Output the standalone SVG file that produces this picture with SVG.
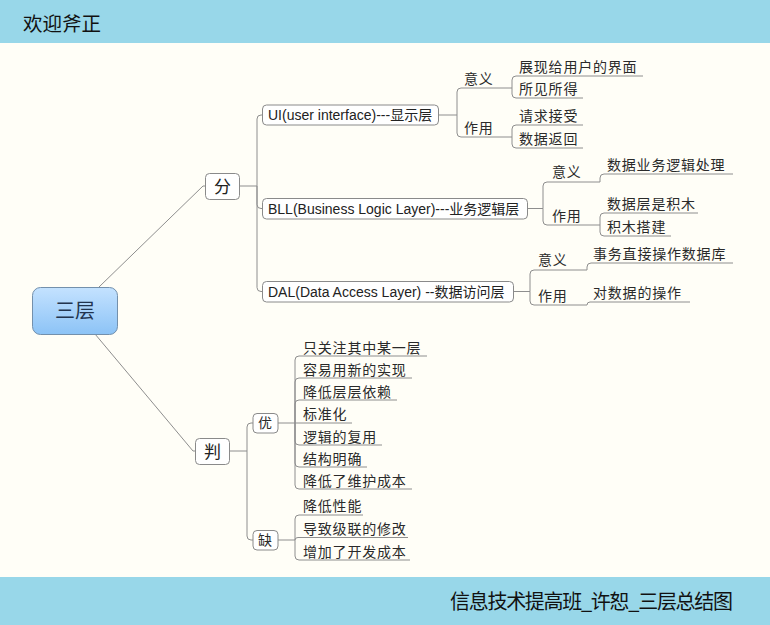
<svg xmlns="http://www.w3.org/2000/svg" width="770" height="625" viewBox="0 0 770 625">
  <defs>
    <linearGradient id="rootGrad" x1="0" y1="0" x2="0" y2="1">
      <stop offset="0" stop-color="#C4E2FF"/>
      <stop offset="1" stop-color="#8CC3F6"/>
    </linearGradient>
    <style>
      .bar { fill: #98D7E9; }
      .bartext { font-family: "Noto Sans CJK SC", "Liberation Sans", sans-serif; fill: #111; }
      .conn { fill: none; stroke: #8E8E8E; stroke-width: 1; }
      .box { fill: #FFFFFF; stroke: #8A8A8A; stroke-width: 1; }
      .lbl { font-family: "Liberation Sans", "Noto Sans CJK SC", sans-serif; font-size: 14px; fill: #222; }
      .cjk { font-family: "Noto Sans CJK SC", sans-serif; font-size: 14px; fill: #2A2A2A; letter-spacing: 0.8px; }
      .big { font-family: "Noto Sans CJK SC", sans-serif; font-size: 17px; fill: #222; text-anchor: middle; }
    </style>
  </defs>

  <rect x="0" y="0" width="770" height="625" fill="#FFFEF7"/>
  <rect class="bar" x="0" y="0" width="770" height="43"/>
  <text class="bartext" x="23" y="31" font-size="19.5">欢迎斧正</text>
  <rect class="bar" x="0" y="577" width="770" height="48"/>
  <text class="bartext" x="450" y="609" font-size="20" textLength="283" lengthAdjust="spacing">信息技术提高班_许恕_三层总结图</text>

  <g id="connectors">
    <path class="conn" d="M99,287 L203,186 L205,186"/>
    <path class="conn" d="M95,334 L193,451 L195,451"/>
    <!-- 分 -->
    <path class="conn" d="M239,186 L257,186"/>
    <path class="conn" d="M257,186 L257,119 Q257,115 261,115 L262,115"/>
    <path class="conn" d="M257,186 L257,204.5 Q257,208.5 261,208.5 L262,208.5"/>
    <path class="conn" d="M257,186 L257,287.5 Q257,291.5 261,291.5 L262,291.5"/>
    <!-- UI -->
    <path class="conn" d="M438,115 L457,115"/>
    <path class="conn" d="M457,115 L457,92 Q457,88 461,88 L512,88"/>
    <path class="conn" d="M457,115 L457,133 Q457,137 461,137 L512,137"/>
    <path class="conn" d="M512,88 L512,80 Q512,76 516,76 L643,76"/>
    <path class="conn" d="M512,88 L512,94 Q512,98 516,98 L583,98"/>
    <path class="conn" d="M512,137 L512,129 Q512,125 516,125 L583,125"/>
    <path class="conn" d="M512,137 L512,144 Q512,148 516,148 L583,148"/>
    <!-- BLL -->
    <path class="conn" d="M527,208.5 L543,208.5"/>
    <path class="conn" d="M543,208.5 L543,186 Q543,182 547,182 L600,182"/>
    <path class="conn" d="M543,208.5 L543,221 Q543,225 547,225 L600,225"/>
    <path class="conn" d="M600,182 L600,178 Q600,174 604,174 L733,174"/>
    <path class="conn" d="M600,225 L600,217 Q600,213 604,213 L698,213"/>
    <path class="conn" d="M600,225 L600,232 Q600,236 604,236 L671,236"/>
    <!-- DAL -->
    <path class="conn" d="M513,291.5 L530,291.5"/>
    <path class="conn" d="M530,291.5 L530,274 Q530,270 534,270 L587,270"/>
    <path class="conn" d="M530,291.5 L530,301 Q530,305 534,305 L587,305"/>
    <path class="conn" d="M587,270 L587,267 Q587,263 591,263 L733,263"/>
    <path class="conn" d="M587,305 Q587,302 590,302 L690,302"/>
    <!-- 判 -->
    <path class="conn" d="M229,451 L247,451"/>
    <path class="conn" d="M247,451 L247,427 Q247,423 251,423 L253,423"/>
    <path class="conn" d="M247,451 L247,536 Q247,540 251,540 L253,540"/>
    <!-- 优 -->
    <path class="conn" d="M278,423 L295,423"/>
    <path class="conn" d="M295,423 L295,360 Q295,356 299,356 L427,356"/>
    <path class="conn" d="M295,423 L295,382 Q295,378 299,378 L412,378"/>
    <path class="conn" d="M295,423 L295,404 Q295,400 299,400 L397,400"/>
    <path class="conn" d="M295,423 L352,423"/>
    <path class="conn" d="M295,423 L295,441 Q295,445 299,445 L382,445"/>
    <path class="conn" d="M295,423 L295,463 Q295,467 299,467 L367,467"/>
    <path class="conn" d="M295,423 L295,485 Q295,489 299,489 L412,489"/>
    <!-- 缺 -->
    <path class="conn" d="M278,540 L295,540"/>
    <path class="conn" d="M295,540 L295,519 Q295,515 299,515 L363,515"/>
    <path class="conn" d="M295,540 Q295,537.5 298,537.5 L408,537.5"/>
    <path class="conn" d="M295,540 L295,556 Q295,560 299,560 L410,560"/>
  </g>

  <g id="node-root">
    <rect x="32.5" y="287.5" width="85" height="47" rx="8" fill="url(#rootGrad)" stroke="#7390AC" stroke-width="1"/>
    <text x="75" y="318" font-family="'Noto Sans CJK SC', sans-serif" font-size="20" fill="#22344E" text-anchor="middle">三层</text>
  </g>

  <g id="node-fen">
    <rect class="box" x="205.5" y="173.5" width="34" height="26" rx="4"/>
    <text class="big" x="222.5" y="192.5">分</text>
  </g>
  <g id="node-pan">
    <rect class="box" x="195.5" y="438.5" width="34" height="26" rx="4"/>
    <text class="big" x="212.5" y="457.5">判</text>
  </g>

  <g id="node-ui">
    <rect class="box" x="262.5" y="105" width="176" height="20" rx="4"/>
    <text class="lbl" x="268" y="120">UI(user interface)---显示层</text>
  </g>
  <g id="node-ui-yiyi"><text class="cjk" x="464" y="84">意义</text></g>
  <g id="node-ui-zhanxian"><text class="cjk" x="519" y="72">展现给用户的界面</text></g>
  <g id="node-ui-suojian"><text class="cjk" x="519" y="94">所见所得</text></g>
  <g id="node-ui-zuoyong"><text class="cjk" x="464" y="133">作用</text></g>
  <g id="node-ui-qingqiu"><text class="cjk" x="519" y="121">请求接受</text></g>
  <g id="node-ui-fanhui"><text class="cjk" x="519" y="144">数据返回</text></g>

  <g id="node-bll">
    <rect class="box" x="262.5" y="198.5" width="265" height="20.5" rx="4"/>
    <text class="lbl" x="268" y="213.5">BLL(Business Logic Layer)---业务逻辑层</text>
  </g>
  <g id="node-bll-yiyi"><text class="cjk" x="552" y="177">意义</text></g>
  <g id="node-bll-chuli"><text class="cjk" x="607" y="170">数据业务逻辑处理</text></g>
  <g id="node-bll-zuoyong"><text class="cjk" x="552" y="221">作用</text></g>
  <g id="node-bll-jimu"><text class="cjk" x="607" y="209">数据层是积木</text></g>
  <g id="node-bll-dajian"><text class="cjk" x="607" y="232">积木搭建</text></g>

  <g id="node-dal">
    <rect class="box" x="262.5" y="281.5" width="251" height="20.5" rx="4"/>
    <text class="lbl" x="268" y="296.5">DAL(Data Access Layer) --数据访问层</text>
  </g>
  <g id="node-dal-yiyi"><text class="cjk" x="538" y="265">意义</text></g>
  <g id="node-dal-shiwu"><text class="cjk" x="593" y="259">事务直接操作数据库</text></g>
  <g id="node-dal-zuoyong"><text class="cjk" x="538" y="301">作用</text></g>
  <g id="node-dal-caozuo"><text class="cjk" x="593" y="298">对数据的操作</text></g>

  <g id="node-you">
    <rect class="box" x="253" y="413.5" width="25" height="19.5" rx="4"/>
    <text class="cjk" x="265.5" y="428" text-anchor="middle" letter-spacing="0">优</text>
  </g>
  <g id="node-you-1"><text class="cjk" x="303" y="352.5">只关注其中某一层</text></g>
  <g id="node-you-2"><text class="cjk" x="303" y="374.5">容易用新的实现</text></g>
  <g id="node-you-3"><text class="cjk" x="303" y="396.5">降低层层依赖</text></g>
  <g id="node-you-4"><text class="cjk" x="303" y="419">标准化</text></g>
  <g id="node-you-5"><text class="cjk" x="303" y="441.5">逻辑的复用</text></g>
  <g id="node-you-6"><text class="cjk" x="303" y="463.5">结构明确</text></g>
  <g id="node-you-7"><text class="cjk" x="303" y="485.5">降低了维护成本</text></g>

  <g id="node-que">
    <rect class="box" x="253" y="530.5" width="25" height="19.5" rx="4"/>
    <text class="cjk" x="265.5" y="545" text-anchor="middle" letter-spacing="0">缺</text>
  </g>
  <g id="node-que-1"><text class="cjk" x="303" y="511">降低性能</text></g>
  <g id="node-que-2"><text class="cjk" x="303" y="534">导致级联的修改</text></g>
  <g id="node-que-3"><text class="cjk" x="303" y="556.5">增加了开发成本</text></g>
</svg>
